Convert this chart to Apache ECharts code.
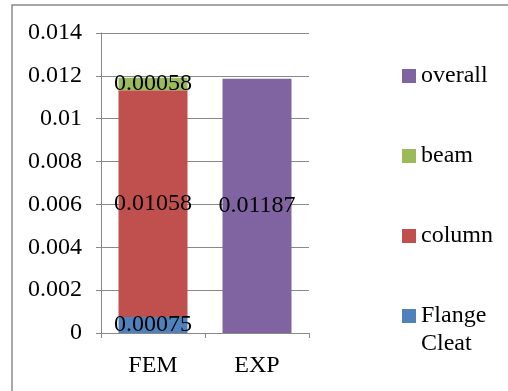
<!DOCTYPE html>
<html>
<head>
<meta charset="utf-8">
<script src="https://cdn.jsdelivr.net/npm/echarts@6/dist/echarts.min.js"></script>
<style>
  html, body { margin: 0; padding: 0; background: #fff; }
  #chart { width: 508px; height: 391px; }
</style>
</head>
<body>
<div id="chart"></div>
<script>
// Rotation components, FEM breakdown vs experiment
const categories = ['FEM', 'EXP'];
const flangeCleat = [0.00075, null];
const column = [0.01058, null];
const beam = [0.00058, null];
const overall = [null, 0.01187];
const legendOrder = ['overall', 'beam', 'column'];
const legendLast = ['Flange Cleat'];

const FONT = 'Liberation Serif';
const GRID_GREY = '#898989';

const chart = echarts.init(document.getElementById('chart'), null, { renderer: 'canvas' });

function barSeries(name, data, color) {
  return {
    name: name,
    type: 'bar',
    stack: 'total',
    data: data,
    barWidth: 69,
    itemStyle: { color: color },
    label: {
      show: true,
      position: 'inside',
      color: '#000',
      fontFamily: FONT,
      fontSize: 24
    }
  };
}

const legendCommon = {
  type: 'plain',
  orient: 'vertical',
  left: 402,
  padding: 0,
  itemWidth: 14,
  itemHeight: 14,
  itemGap: 52,
  icon: 'rect',
  textStyle: { fontFamily: FONT, fontSize: 24, color: '#000', lineHeight: 28 }
};

chart.setOption({
  animation: false,
  backgroundColor: '#fff',
  graphic: [{
    type: 'rect',
    shape: { x: 12, y: 5, width: 700, height: 600 },
    style: { fill: null, stroke: GRID_GREY, lineWidth: 1.5 },
    silent: true
  }],
  grid: { left: 101, right: 199, top: 33, bottom: 58 },
  legend: [
    Object.assign({}, legendCommon, { top: 62, data: legendOrder }),
    // two-line entry: an empty first line keeps the swatch level with "Flange"
    Object.assign({}, legendCommon, {
      top: 274,
      data: legendLast,
      formatter: function () { return '\nFlange\nCleat'; }
    })
  ],
  xAxis: {
    type: 'category',
    data: categories,
    axisLine: { show: true, lineStyle: { color: GRID_GREY, width: 1 } },
    axisTick: { show: true, length: 5, lineStyle: { color: GRID_GREY } },
    axisLabel: { color: '#000', fontFamily: FONT, fontSize: 24, margin: 21 }
  },
  yAxis: {
    type: 'value',
    min: 0,
    max: 0.014,
    interval: 0.002,
    axisLine: { show: true, lineStyle: { color: GRID_GREY, width: 1 } },
    axisTick: { show: true, length: 5, lineStyle: { color: GRID_GREY } },
    splitLine: { show: true, lineStyle: { color: GRID_GREY, width: 1 } },
    axisLabel: { color: '#000', fontFamily: FONT, fontSize: 24, margin: 19 }
  },
  series: [
    barSeries('Flange Cleat', flangeCleat, '#4F81BD'),
    barSeries('column', column, '#C0504D'),
    barSeries('beam', beam, '#9BBB59'),
    barSeries('overall', overall, '#8064A2')
  ]
});
</script>
</body>
</html>
